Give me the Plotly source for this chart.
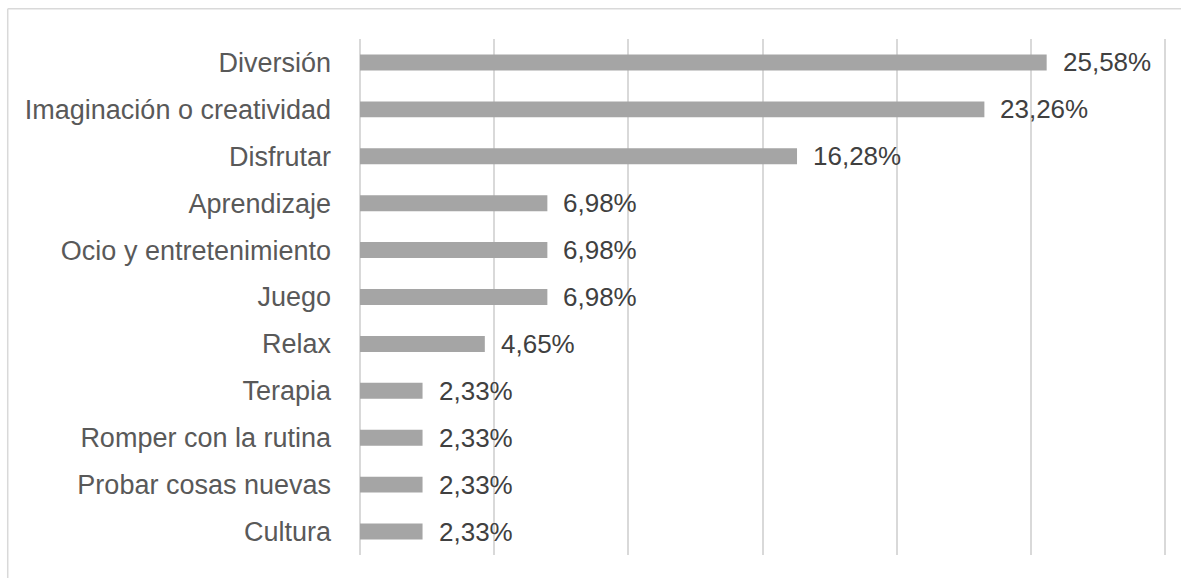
import plotly.graph_objects as go

categories = ["Diversión", "Imaginación o creatividad", "Disfrutar", "Aprendizaje",
              "Ocio y entretenimiento", "Juego", "Relax", "Terapia",
              "Romper con la rutina", "Probar cosas nuevas", "Cultura"]
values = [25.58, 23.26, 16.28, 6.98, 6.98, 6.98, 4.65, 2.33, 2.33, 2.33, 2.33]
tick_vals = [0, 5, 10, 15, 20, 25, 30]

labels = [f"{v:.2f}".replace(".", ",") + "%" for v in values]
value_color = "#404040"
category_color = "#595959"
grid_color = "#D9D9D9"
font_family = "Liberation Sans, Arial, sans-serif"

fig = go.Figure()
fig.add_trace(go.Bar(
    x=values, y=categories, orientation="h",
    marker=dict(color="#A5A5A5", line=dict(width=0)),
    hoverinfo="skip",
))

# value labels placed just right of each bar end
for c, v, t in zip(categories, values, labels):
    fig.add_annotation(x=v, y=c, text=t, showarrow=False, xanchor="left",
                       yanchor="middle", xshift=14,
                       font=dict(size=26, color=value_color, family=font_family))

# light frame around the chart area (top and left edges visible)
frame = dict(type="line", xref="paper", yref="paper",
             line=dict(color=grid_color, width=1.5))
fig.add_shape(**frame, x0=-0.436, x1=1.2, y0=1.0585, y1=1.0585)
fig.add_shape(**frame, x0=-0.436, x1=-0.436, y0=-0.2, y1=1.0585)

fig.update_layout(
    width=1181, height=578,
    margin=dict(l=360, r=13, t=39, b=23),
    paper_bgcolor="white", plot_bgcolor="white",
    bargap=0.66, showlegend=False,
    font=dict(family=font_family, color=category_color, size=27),
)
fig.update_xaxes(range=[0, 30.1], tickvals=tick_vals, showticklabels=False,
                 showgrid=True, gridcolor=grid_color, gridwidth=1.5,
                 zeroline=True, zerolinecolor=grid_color, zerolinewidth=1.5,
                 showline=False, fixedrange=True)
fig.update_yaxes(autorange="reversed", showgrid=False, showline=False,
                 ticks="", ticklabelstandoff=28,
                 tickfont=dict(size=27, color=category_color, family=font_family),
                 fixedrange=True)

fig.write_html("out.html", config={"displayModeBar": False})
